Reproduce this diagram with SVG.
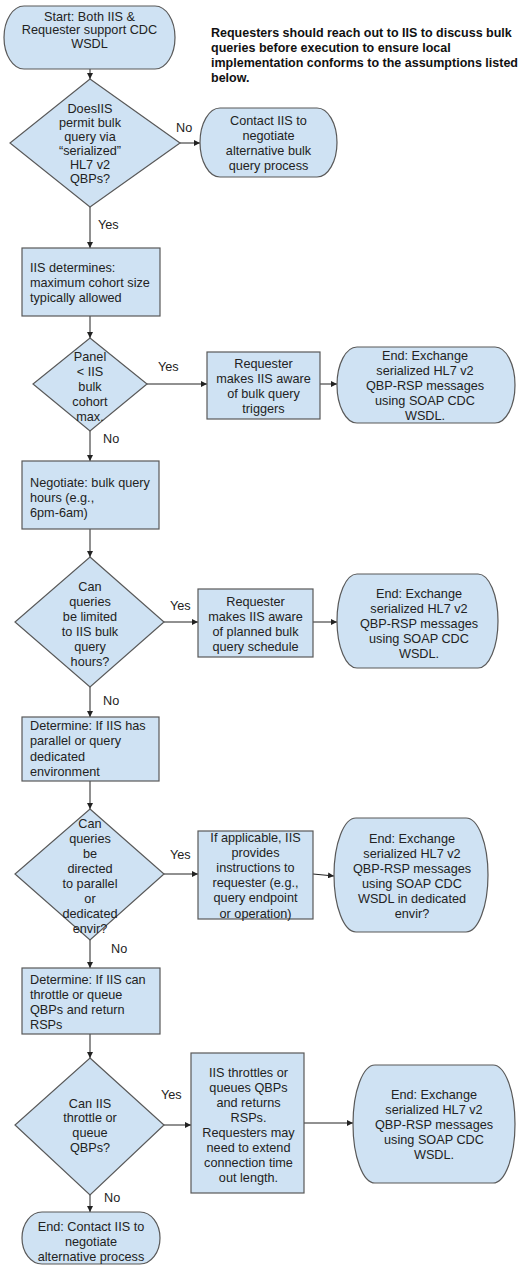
<svg xmlns="http://www.w3.org/2000/svg" width="524" height="1266" viewBox="0 0 524 1266">
<style>
.shape{fill:#cfe2f3;stroke:#595959;stroke-width:1.2}
.t{font-family:"Liberation Sans",Arial,sans-serif;font-size:12.7px;fill:#222}
.c{text-anchor:middle}
.note{font-family:"Liberation Sans",Arial,sans-serif;font-size:12.5px;font-weight:bold;fill:#111}
.ln{stroke:#222;stroke-width:1;fill:none;marker-end:url(#ah)}
.lbl{font-family:"Liberation Sans",Arial,sans-serif;font-size:12.7px;fill:#222}
</style>
<defs>
<marker id="ah" markerUnits="userSpaceOnUse" markerWidth="7" markerHeight="6" refX="6" refY="3" orient="auto">
<path d="M0,0 L6,3 L0,6 z" fill="#222"/>
</marker>
</defs>
<rect width="524" height="1266" fill="#fff"/>

<g id="connectors">
<line class="ln" x1="90" y1="69" x2="90" y2="79"/>
<line class="ln" x1="180" y1="143" x2="200" y2="143"/>
<line class="ln" x1="90" y1="207" x2="90" y2="248"/>
<line class="ln" x1="90" y1="316" x2="90" y2="338"/>
<line class="ln" x1="147" y1="384" x2="207" y2="384"/>
<line class="ln" x1="320" y1="384" x2="337" y2="384"/>
<line class="ln" x1="90" y1="431" x2="90" y2="461"/>
<line class="ln" x1="90" y1="529" x2="90" y2="557"/>
<line class="ln" x1="164" y1="622" x2="198" y2="622"/>
<line class="ln" x1="313" y1="622" x2="337" y2="622"/>
<line class="ln" x1="90" y1="687" x2="90" y2="717"/>
<line class="ln" x1="90" y1="781" x2="90" y2="809"/>
<line class="ln" x1="164" y1="874" x2="198" y2="874"/>
<line class="ln" x1="313" y1="874" x2="334" y2="876"/>
<line class="ln" x1="90" y1="940" x2="90" y2="968"/>
<line class="ln" x1="90" y1="1034" x2="90" y2="1058"/>
<line class="ln" x1="164" y1="1125" x2="191" y2="1125"/>
<line class="ln" x1="304" y1="1123" x2="353" y2="1123"/>
<line class="ln" x1="90" y1="1195" x2="90" y2="1212"/>
<text class="lbl" x="176" y="131.5">No</text>
<text class="lbl" x="98" y="228.5">Yes</text>
<text class="lbl" x="158" y="370.5">Yes</text>
<text class="lbl" x="103" y="442.5">No</text>
<text class="lbl" x="170" y="609.5">Yes</text>
<text class="lbl" x="103" y="704.5">No</text>
<text class="lbl" x="170" y="858.5">Yes</text>
<text class="lbl" x="111" y="952.5">No</text>
<text class="lbl" x="161" y="1098.5">Yes</text>
<text class="lbl" x="104" y="1201.5">No</text>
</g>

<g id="start">
<rect class="shape" x="4" y="6" width="171" height="63" rx="20" ry="31.5"/>
<text class="t c" x="89.5" y="20.5">Start: Both IIS &amp;</text>
<text class="t c" x="89.5" y="34">Requester support CDC</text>
<text class="t c" x="89.5" y="47.5">WSDL</text>
</g>

<g id="note">
<text class="note" x="211" y="36.5">Requesters should reach out to IIS to discuss bulk</text>
<text class="note" x="211" y="51.5">queries before execution to ensure local</text>
<text class="note" x="211" y="66.5">implementation conforms to the assumptions listed</text>
<text class="note" x="211" y="81.5">below.</text>
</g>

<g id="d1">
<polygon class="shape" points="90,79 180,143 90,207 10,143"/>
<text class="t c" x="90" y="112.5">DoesIIS</text>
<text class="t c" x="90" y="126.5">permit bulk</text>
<text class="t c" x="90" y="140.5">query via</text>
<text class="t c" x="90" y="154.5">“serialized”</text>
<text class="t c" x="90" y="168.5">HL7 v2</text>
<text class="t c" x="90" y="182.5">QBPs?</text>
</g>

<g id="contact">
<rect class="shape" x="200" y="108" width="137" height="69" rx="20" ry="34.5"/>
<text class="t c" x="268.5" y="125">Contact IIS to</text>
<text class="t c" x="268.5" y="140">negotiate</text>
<text class="t c" x="268.5" y="155">alternative bulk</text>
<text class="t c" x="268.5" y="170">query process</text>
</g>

<g id="box1">
<rect class="shape" x="22" y="248" width="138" height="68"/>
<text class="t" x="30" y="271.5">IIS determines:</text>
<text class="t" x="30" y="286.5">maximum cohort size</text>
<text class="t" x="30" y="301.5">typically allowed</text>
</g>

<g id="d2">
<polygon class="shape" points="90,338 147,384 90,431 33,384"/>
<text class="t c" x="90" y="360.5">Panel</text>
<text class="t c" x="90" y="375.5">&lt; IIS</text>
<text class="t c" x="90" y="390.5">bulk</text>
<text class="t c" x="90" y="405.5">cohort</text>
<text class="t c" x="90" y="420.5">max.</text>
</g>

<g id="req1">
<rect class="shape" x="207" y="352" width="113" height="67"/>
<text class="t c" x="263.5" y="367.5">Requester</text>
<text class="t c" x="263.5" y="382.5">makes IIS aware</text>
<text class="t c" x="263.5" y="397.5">of bulk query</text>
<text class="t c" x="263.5" y="412.5">triggers</text>
</g>

<g id="end1">
<rect class="shape" x="337" y="347" width="178" height="76" rx="20" ry="38"/>
<text class="t c" x="425" y="359.5">End: Exchange</text>
<text class="t c" x="425" y="374.5">serialized HL7 v2</text>
<text class="t c" x="425" y="389.5">QBP-RSP messages</text>
<text class="t c" x="425" y="404.5">using SOAP CDC</text>
<text class="t c" x="425" y="419.5">WSDL.</text>
</g>

<g id="box2">
<rect class="shape" x="22" y="461" width="137" height="68"/>
<text class="t" x="30" y="486.5">Negotiate: bulk query</text>
<text class="t" x="30" y="501.5">hours (e.g.,</text>
<text class="t" x="30" y="516.5">6pm-6am)</text>
</g>

<g id="d3">
<polygon class="shape" points="90,557 164,622 90,687 15,622"/>
<text class="t c" x="90" y="590.5">Can</text>
<text class="t c" x="90" y="605.5">queries</text>
<text class="t c" x="90" y="620.5">be limited</text>
<text class="t c" x="90" y="635.5">to IIS bulk</text>
<text class="t c" x="90" y="650.5">query</text>
<text class="t c" x="90" y="665.5">hours?</text>
</g>

<g id="req2">
<rect class="shape" x="198" y="589" width="115" height="68"/>
<text class="t c" x="255.5" y="605.5">Requester</text>
<text class="t c" x="255.5" y="620.5">makes IIS aware</text>
<text class="t c" x="255.5" y="635.5">of planned bulk</text>
<text class="t c" x="255.5" y="650.5">query schedule</text>
</g>

<g id="end2">
<rect class="shape" x="337" y="574" width="161" height="94" rx="20" ry="47"/>
<text class="t c" x="419" y="597.5">End: Exchange</text>
<text class="t c" x="419" y="612.5">serialized HL7 v2</text>
<text class="t c" x="419" y="627.5">QBP-RSP messages</text>
<text class="t c" x="419" y="642.5">using SOAP CDC</text>
<text class="t c" x="419" y="657.5">WSDL.</text>
</g>

<g id="box3">
<rect class="shape" x="22" y="717" width="137" height="64"/>
<text class="t" x="30" y="730">Determine: If IIS has</text>
<text class="t" x="30" y="745.3">parallel or query</text>
<text class="t" x="30" y="760.6">dedicated</text>
<text class="t" x="30" y="776">environment</text>
</g>

<g id="d4">
<polygon class="shape" points="90,809 164,874 90,940 15,874"/>
<text class="t c" x="90" y="827.5">Can</text>
<text class="t c" x="90" y="842.5">queries</text>
<text class="t c" x="90" y="857.5">be</text>
<text class="t c" x="90" y="872.5">directed</text>
<text class="t c" x="90" y="887.5">to parallel</text>
<text class="t c" x="90" y="902.5">or</text>
<text class="t c" x="90" y="917.5">dedicated</text>
<text class="t c" x="90" y="932.5">envir?</text>
</g>

<g id="req3">
<rect class="shape" x="198" y="831" width="115" height="88"/>
<text class="t c" x="255.5" y="841.5">If applicable, IIS</text>
<text class="t c" x="255.5" y="856.7">provides</text>
<text class="t c" x="255.5" y="871.9">instructions to</text>
<text class="t c" x="255.5" y="887.1">requester (e.g.,</text>
<text class="t c" x="255.5" y="902.3">query endpoint</text>
<text class="t c" x="255.5" y="917.5">or operation)</text>
</g>

<g id="end3">
<rect class="shape" x="334" y="818" width="154" height="114" rx="22" ry="57"/>
<text class="t c" x="412" y="842.5">End: Exchange</text>
<text class="t c" x="412" y="857.5">serialized HL7 v2</text>
<text class="t c" x="412" y="872.5">QBP-RSP messages</text>
<text class="t c" x="412" y="887.5">using SOAP CDC</text>
<text class="t c" x="412" y="902.5">WSDL in dedicated</text>
<text class="t c" x="412" y="917.5">envir?</text>
</g>

<g id="box4">
<rect class="shape" x="22" y="968" width="138" height="66"/>
<text class="t" x="30" y="983.5">Determine: If IIS can</text>
<text class="t" x="30" y="998.5">throttle or queue</text>
<text class="t" x="30" y="1013.5">QBPs and return</text>
<text class="t" x="30" y="1028.5">RSPs</text>
</g>

<g id="d5">
<polygon class="shape" points="90,1058 164,1125 90,1195 15,1125"/>
<text class="t c" x="90" y="1107.5">Can IIS</text>
<text class="t c" x="90" y="1122">throttle or</text>
<text class="t c" x="90" y="1136.5">queue</text>
<text class="t c" x="90" y="1151.5">QBPs?</text>
</g>

<g id="req4">
<rect class="shape" x="191" y="1053" width="113" height="140"/>
<text class="t c" x="248.5" y="1076.5">IIS throttles or</text>
<text class="t c" x="248.5" y="1091.5">queues QBPs</text>
<text class="t c" x="248.5" y="1106.5">and returns</text>
<text class="t c" x="248.5" y="1121.5">RSPs.</text>
<text class="t c" x="248.5" y="1136.5">Requesters may</text>
<text class="t c" x="248.5" y="1151.5">need to extend</text>
<text class="t c" x="248.5" y="1166.5">connection time</text>
<text class="t c" x="248.5" y="1181.5">out length.</text>
</g>

<g id="end4">
<rect class="shape" x="353" y="1065" width="162" height="118" rx="22" ry="59"/>
<text class="t c" x="434" y="1098.5">End: Exchange</text>
<text class="t c" x="434" y="1113.5">serialized HL7 v2</text>
<text class="t c" x="434" y="1128.5">QBP-RSP messages</text>
<text class="t c" x="434" y="1143.5">using SOAP CDC</text>
<text class="t c" x="434" y="1158.5">WSDL.</text>
</g>

<g id="end5">
<rect class="shape" x="22" y="1212" width="138" height="52" rx="20" ry="26"/>
<text class="t c" x="91" y="1230.5">End: Contact IIS to</text>
<text class="t c" x="91" y="1245.5">negotiate</text>
<text class="t c" x="91" y="1260.5">alternative process</text>
</g>
</svg>
